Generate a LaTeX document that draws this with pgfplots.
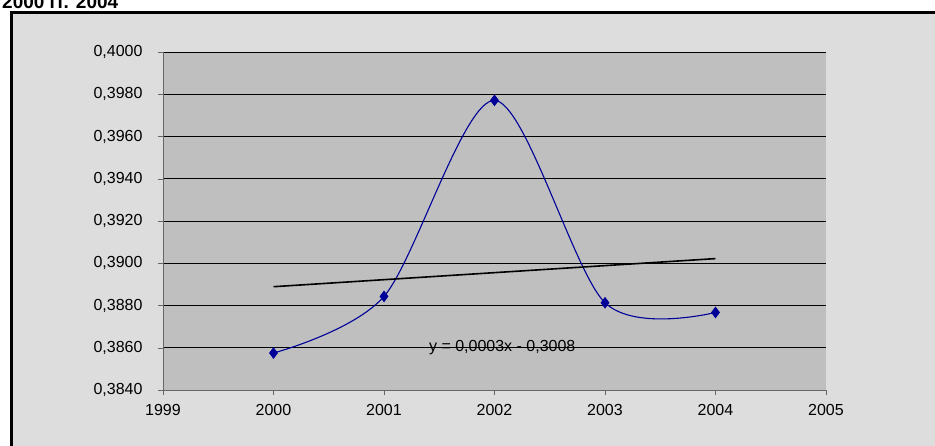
\documentclass[border=0pt]{standalone}
\usepackage{pgfplots}
\pgfplotsset{compat=1.18}
\usepackage{fontspec}
\setmainfont{Liberation Sans}
\begin{document}
\begin{tikzpicture}[x=1pt,y=1pt]
\useasboundingbox (0,0) rectangle (935,445);
\begin{scope}
\clip (0,0) rectangle (935,445);
\fill[gray!27] (11,-5) rectangle (945,432);
\draw[line width=3pt] (11,-5) rectangle (945,432);
\node[anchor=base west,font=\bfseries\fontsize{19}{19}\selectfont,inner sep=0pt] at (2,436) {2000 гг. 2004};
\end{scope}
\begin{axis}[at={(163pt,55pt)},anchor=south west,scale only axis,width=663pt,height=338pt,
 xmin=1999,xmax=2005,ymin=0.384,ymax=0.4,
 xtick={1999,...,2005},ytick={0.384,0.386,...,0.4001},
 axis background/.style={fill=gray!50},
 ymajorgrids,grid style={black,line width=0.7pt},
 axis line style={black!60},
 axis x line*=bottom, axis y line*=left,
 tick style={black!60},tick align=outside,major tick length=5pt,
 xticklabel style={/pgf/number format/1000 sep={},yshift=-6pt},
 yticklabel style={/pgf/number format/.cd,fixed,fixed zerofill,precision=4,use comma,/tikz/xshift=-12pt},
 /pgf/number format/assume math mode=true,
 ticklabel style={font=\fontsize{16}{16}\selectfont},
 clip=false]
\addplot[color=blue!60!black,line width=1.1pt,smooth,tension=0.5,mark=diamond*,mark size=5pt,mark options={fill=blue!60!black}]
 coordinates {(2000,0.38575)(2001,0.38843)(2002,0.39771)(2003,0.38813)(2004,0.38767)};
\addplot[black,line width=1.6pt] coordinates {(2000,0.38889)(2004,0.39022)};
\node[font=\fontsize{16}{16}\selectfont] at (axis cs:2002.07,0.3860) {y = 0,0003x - 0,3008};
\end{axis}
\end{tikzpicture}
\end{document}
